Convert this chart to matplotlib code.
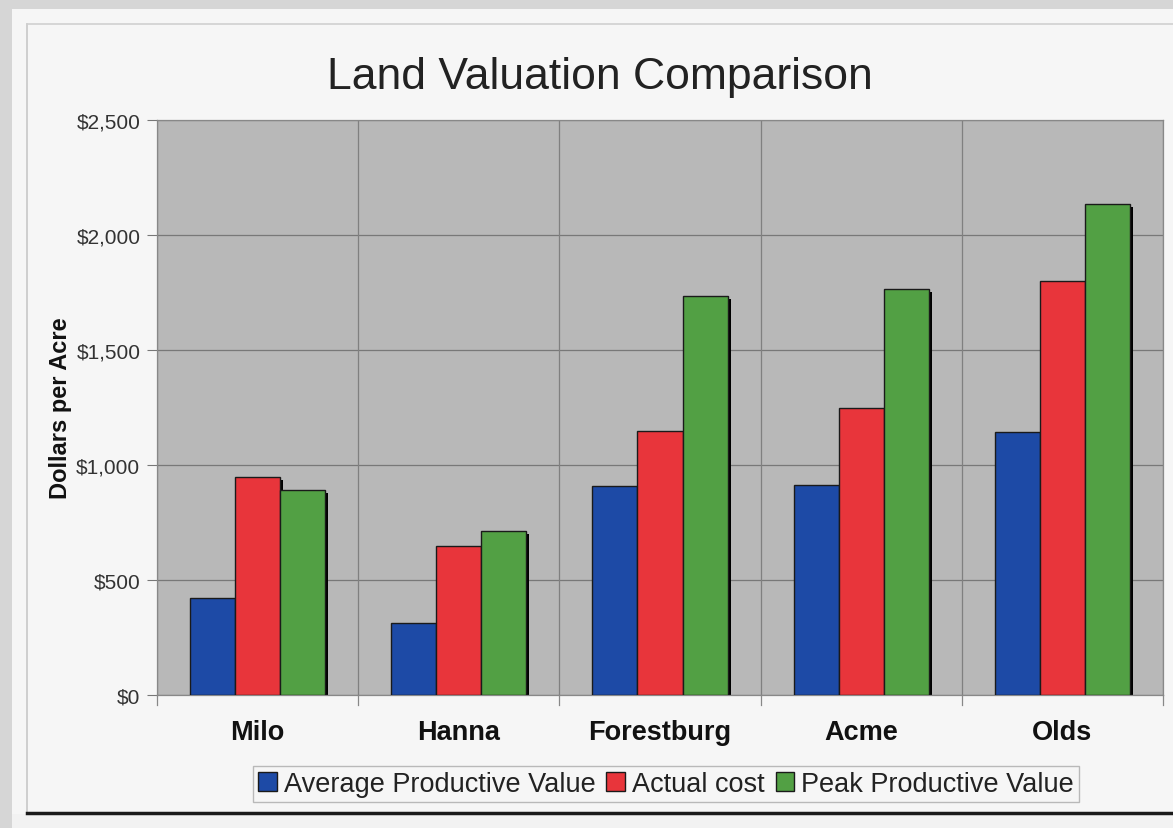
import matplotlib
matplotlib.use("Agg")
import matplotlib.pyplot as plt
import matplotlib.transforms as mtransforms
from matplotlib.patches import Rectangle
from matplotlib.lines import Line2D
import numpy as np

plt.rcParams["font.family"] = ["Liberation Sans", "DejaVu Sans"]

categories = ["Milo", "Hanna", "Forestburg", "Acme", "Olds"]
avg_productive = [420, 315, 910, 915, 1145]
actual_cost = [950, 650, 1150, 1250, 1800]
peak_productive = [890, 715, 1735, 1765, 2135]
series_names = ["Average Productive Value", "Actual cost", "Peak Productive Value"]
series_colors = ["#1d4aa6", "#e8353b", "#52a044"]
yticks = [0, 500, 1000, 1500, 2000, 2500]
ytick_labels = ["$0", "$500", "$1,000", "$1,500", "$2,000", "$2,500"]

W, H = 1173, 829
fig = plt.figure(figsize=(W / 100, H / 100), dpi=100)
fig.patch.set_facecolor("#d6d6d6")

# page / frame
fig.add_artist(Rectangle((12 / W, 1 - 815 / H), 1, (815 - 10) / H, transform=fig.transFigure,
                         facecolor="#f6f6f6", edgecolor="none", zorder=0))
fig.add_artist(Rectangle((12 / W, 0), 1, 1 - 815 / H, transform=fig.transFigure,
                         facecolor="#f2f2f2", edgecolor="none", zorder=0))
fig.add_artist(Line2D([27 / W, 27 / W], [1 - 25 / H, 1 - 813 / H], transform=fig.transFigure,
                      color="#c8c8c8", lw=1.2))
fig.add_artist(Line2D([27 / W, 1.0], [1 - 25 / H, 1 - 25 / H], transform=fig.transFigure,
                      color="#d0d0d0", lw=1.2))
fig.add_artist(Line2D([27 / W, 1.0], [1 - 814 / H, 1 - 814 / H], transform=fig.transFigure,
                      color="#1a1a1a", lw=2.5))

left, right, top, bottom = 157, 1163, 121, 696
ax = fig.add_axes([left / W, 1 - bottom / H, (right - left) / W, (bottom - top) / H])
ax.set_facecolor("#b8b8b8")

n = len(categories)
x = np.arange(n)
width = 0.224
data = [avg_productive, actual_cost, peak_productive]

shadow_tr = ax.transData + mtransforms.ScaledTranslation(3 / 100, -3 / 100, fig.dpi_scale_trans)
for i, (vals, col) in enumerate(zip(data, series_colors)):
    pos = x + (i - 1) * width
    ax.bar(pos, vals, width, color="black", transform=shadow_tr, zorder=2, clip_on=True)
for i, (vals, col, name) in enumerate(zip(data, series_colors, series_names)):
    pos = x + (i - 1) * width
    ax.bar(pos, vals, width, color=col, edgecolor="#1a1a1a", linewidth=1.0, zorder=3, label=name)

ax.set_xlim(-0.5, n - 0.5)
ax.set_ylim(0, 2500)
ax.set_yticks(yticks)
ax.set_yticklabels(ytick_labels, fontsize=15, color="#333333")
ax.set_xticks(x)
ax.set_xticklabels(categories, fontsize=19.5, fontweight="bold", color="#111111")
ax.tick_params(axis="x", length=0, pad=17)
ax.tick_params(axis="y", length=7, color="#777777", pad=5)

# gridlines
for yv in yticks:
    ax.axhline(yv, color="#787878", lw=0.9, zorder=1)
for b in np.arange(-0.5, n, 1.0):
    ax.axvline(b, color="#808080", lw=0.9, zorder=1)
    ax.plot([b, b], [0, -0.018], transform=ax.get_xaxis_transform(), color="#888888",
            lw=0.9, clip_on=False)
for s in ax.spines.values():
    s.set_color("#888888")
    s.set_linewidth(0.9)

ax.set_ylabel("Dollars per Acre", fontsize=17, fontweight="bold", color="#111111", labelpad=3)

fig.text(600 / W, 1 - 78 / H, "Land Valuation Comparison", fontsize=32, color="#222222",
         ha="center", va="center")

leg = fig.legend(loc="center", bbox_to_anchor=(666 / W, 1 - 785 / H), ncol=3, fontsize=19.5,
                 frameon=True, fancybox=False, edgecolor="#aaaaaa", facecolor="#f6f6f6",
                 handlelength=0.7, handleheight=0.7, handletextpad=0.25, columnspacing=0.4,
                 borderpad=0.2)
for t in leg.get_texts():
    t.set_color("#222222")

fig.savefig("out.png", dpi=100, facecolor=fig.get_facecolor())
